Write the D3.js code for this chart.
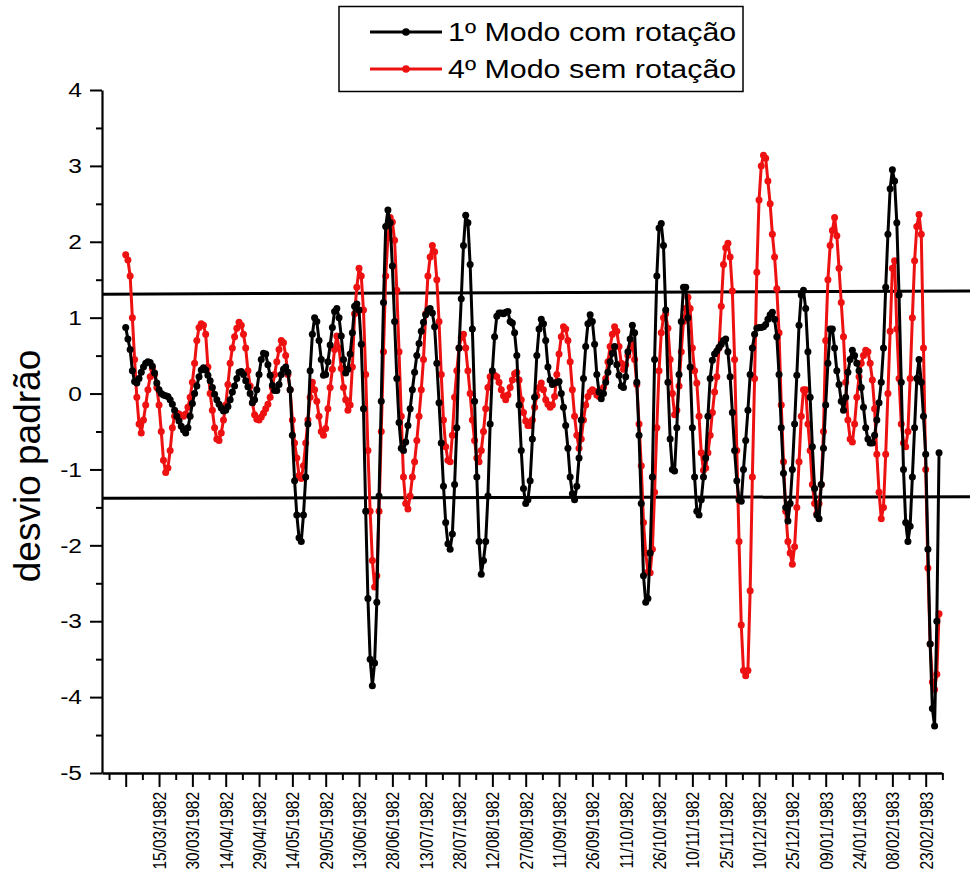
<!DOCTYPE html>
<html>
<head>
<meta charset="utf-8">
<script src="https://cdn.jsdelivr.net/npm/d3@7"></script>
<style>
  body { margin: 0; background: #fff; }
  svg { display: block; }
  text { font-family: Arial, "Liberation Sans", sans-serif; }
</style>
</head>
<body>
<svg id="chart" width="970" height="884"></svg>
<script>
// Daily standardized anomalies, one value per day starting 28/02/1982
const firstDay = new Date(Date.UTC(1982, 1, 28));

const modo1ComRotacao = [
  0.87, 0.72, 0.58, 0.30, 0.16, 0.14, 0.20, 0.28, 0.35, 0.40,
  0.42, 0.41, 0.36, 0.27, 0.14, 0.05, 0.00, -0.02, -0.03, -0.04,
  -0.08, -0.14, -0.22, -0.30, -0.36, -0.43, -0.48, -0.52, -0.45, -0.30,
  -0.13, 0.00, 0.10, 0.22, 0.31, 0.34, 0.31, 0.24, 0.17, 0.08,
  -0.01, -0.08, -0.14, -0.19, -0.23, -0.22, -0.17, -0.08, 0.02, 0.10,
  0.20, 0.28, 0.29, 0.25, 0.17, 0.09, 0.00, -0.12, -0.08, 0.05,
  0.25, 0.45, 0.53, 0.52, 0.38, 0.24, 0.11, 0.04, 0.04, 0.12,
  0.25, 0.32, 0.35, 0.28, 0.05, -0.55, -1.15, -1.60, -1.90, -1.95,
  -1.60, -1.10, -0.40, 0.30, 0.78, 1.00, 0.95, 0.70, 0.45, 0.24,
  0.25, 0.42, 0.64, 0.87, 1.08, 1.12, 1.00, 0.76, 0.45, 0.27,
  0.32, 0.52, 0.80, 1.15, 1.18, 1.10, 0.65, -0.20, -1.55, -2.70,
  -3.50, -3.85, -3.55, -2.75, -1.35, -0.10, 1.20, 2.20, 2.42, 2.25,
  1.68, 0.95, 0.20, -0.38, -0.72, -0.75, -0.64, -0.42, -0.20, 0.05,
  0.28, 0.50, 0.66, 0.82, 0.94, 1.04, 1.10, 1.12, 1.06, 0.88,
  0.40, -0.12, -0.65, -1.22, -1.70, -1.98, -2.05, -1.85, -1.20, -0.45,
  0.60, 1.25, 1.95, 2.35, 2.25, 1.70, 0.85, -0.10, -1.10, -1.95,
  -2.38, -2.20, -1.95, -1.35, -0.40, 0.30, 0.75, 1.02, 1.06, 1.06,
  1.05, 1.07, 1.08, 0.95, 0.93, 0.80, 0.50, -0.15, -0.75, -1.25,
  -1.45, -1.40, -1.15, -0.60, -0.05, 0.50, 0.85, 0.98, 0.92, 0.70,
  0.35, 0.18, 0.12, 0.14, 0.15, 0.16, 0.00, -0.18, -0.42, -0.72,
  -1.10, -1.32, -1.40, -1.22, -0.85, -0.35, 0.20, 0.62, 0.92, 1.04,
  0.95, 0.65, 0.25, 0.02, -0.07, 0.00, 0.15, 0.28, 0.42, 0.53,
  0.62, 0.38, 0.24, 0.10, 0.08, 0.22, 0.55, 0.72, 0.90, 0.80,
  0.15, -0.55, -1.45, -2.40, -2.75, -2.70, -2.10, -1.10, 0.45, 1.55,
  2.18, 2.24, 1.95, 1.10, 0.15, -0.60, -1.00, -1.02, -0.45, 0.25,
  0.95, 1.40, 1.40, 1.00, 0.35, -0.45, -1.10, -1.55, -1.60, -1.40,
  -1.10, -0.85, -0.30, 0.20, 0.44, 0.52, 0.56, 0.61, 0.65, 0.70,
  0.72, 0.55, 0.22, -0.25, -0.75, -1.15, -1.40, -1.42, -1.00, -0.62,
  -0.22, 0.25, 0.60, 0.78, 0.86, 0.87, 0.87, 0.88, 0.91, 0.98,
  1.04, 1.07, 0.98, 0.75, 0.25, -0.45, -1.05, -1.50, -1.68, -1.45,
  -1.00, -0.40, 0.24, 0.90, 1.30, 1.36, 1.12, 0.55, -0.05, -0.70,
  -1.25, -1.60, -1.65, -1.20, -0.72, -0.15, 0.40, 0.85, 0.85, 0.60,
  0.30, 0.12, -0.10, -0.22, -0.05, 0.28, 0.45, 0.57, 0.50, 0.40,
  0.30, 0.08, -0.18, -0.45, -0.60, -0.65, -0.65, -0.55, -0.35, -0.12,
  0.15, 0.60, 1.40, 2.10, 2.70, 2.95, 2.80, 2.25, 1.30, 0.15,
  -1.00, -1.70, -1.95, -1.75, -1.10, -0.45, 0.20, 0.45, 0.15, -0.30,
  -0.80, -2.05, -3.30, -4.15, -4.38, -3.00, -0.78
];

const modo4SemRotacao = [
  1.83, 1.76, 1.55, 1.00, 0.45, -0.05, -0.40, -0.52, -0.35, -0.15,
  0.05, 0.22, 0.33, 0.25, 0.08, -0.15, -0.50, -0.88, -1.04, -0.98,
  -0.75, -0.45, -0.30, -0.26, -0.27, -0.29, -0.30, -0.27, -0.18, -0.05,
  0.15, 0.40, 0.70, 0.87, 0.92, 0.90, 0.78, 0.35, 0.00, -0.22,
  -0.45, -0.60, -0.62, -0.52, -0.35, -0.15, 0.12, 0.40, 0.60, 0.75,
  0.86, 0.94, 0.90, 0.78, 0.60, 0.30, 0.10, -0.12, -0.28, -0.34,
  -0.35, -0.31, -0.26, -0.20, -0.14, -0.05, 0.08, 0.25, 0.42, 0.58,
  0.70, 0.67, 0.50, 0.25, 0.05, -0.35, -0.65, -0.85, -1.08, -1.12,
  -0.95, -0.65, -0.35, -0.05, 0.15, 0.05, -0.10, -0.30, -0.50, -0.55,
  -0.46, -0.20, 0.08, 0.32, 0.58, 0.76, 0.60, 0.33, 0.08, -0.08,
  -0.22, -0.15, 0.35, 1.05, 1.40, 1.65, 1.55, 1.10, 0.25, -0.75,
  -1.55, -2.20, -2.55, -2.40, -1.55, -0.50, 0.55, 1.55, 2.05, 2.32,
  2.26, 2.02, 1.36, 0.55, -0.30, -1.10, -1.45, -1.52, -1.35, -1.10,
  -0.90, -0.62, -0.30, 0.05, 0.45, 1.05, 1.55, 1.80, 1.95, 1.87,
  1.50, 0.95, 0.25, -0.35, -0.70, -0.88, -0.90, -0.55, -0.05, 0.30,
  0.60, 0.74, 0.78, 0.60, 0.30, 0.00, -0.35, -0.62, -0.85, -0.90,
  -0.75, -0.50, -0.20, 0.08, 0.22, 0.25, 0.24, 0.22, 0.15, 0.05,
  -0.03, -0.08, -0.02, 0.08, 0.18, 0.26, 0.28, 0.18, -0.08, -0.25,
  -0.36, -0.42, -0.42, -0.35, -0.18, -0.03, 0.08, 0.14, 0.05, -0.08,
  -0.14, -0.18, -0.15, -0.04, 0.25, 0.52, 0.75, 0.88, 0.85, 0.70,
  0.42, 0.05, -0.30, -0.55, -0.72, -0.60, -0.35, -0.15, -0.04, 0.02,
  0.05, 0.03, -0.02, -0.04, 0.00, 0.08, 0.20, 0.42, 0.62, 0.78,
  0.88, 0.82, 0.62, 0.40, 0.32, 0.38, 0.50, 0.60, 0.66, 0.45,
  0.12, -0.40, -0.95, -1.70, -2.10, -2.35, -2.36, -2.05, -1.30, -0.45,
  0.30, 0.80, 1.00, 1.05, 0.86, 0.45, 0.00, -0.28, -0.22, 0.10,
  0.55, 0.95, 1.12, 1.27, 1.12, 0.60, 0.30, 0.14, -0.30, -0.78,
  -1.01, -0.98, -0.78, -0.55, -0.25, 0.02, 0.22, 0.60, 1.15, 1.70,
  1.92, 1.98, 1.80, 1.35, 0.45, -0.75, -1.95, -3.05, -3.65, -3.72,
  -3.65, -2.60, -1.10, 0.20, 1.60, 2.55, 3.00, 3.14, 3.10, 2.80,
  2.50, 2.10, 1.80, 1.38, 0.80, -0.15, -0.90, -1.55, -1.95, -2.10,
  -2.25, -2.02, -1.50, -0.90, -0.30, 0.05, 0.05, -0.40, -0.75, -1.20,
  -1.45, -1.58, -1.45, -1.20, -0.50, 0.70, 1.50, 1.95, 2.15, 2.32,
  2.08, 1.65, 1.20, 0.75, 0.15, -0.35, -0.60, -0.64, -0.40, -0.05,
  0.22, 0.40, 0.50, 0.57, 0.55, 0.40, 0.18, -0.20, -0.80, -1.30,
  -1.65, -1.50, -0.80, 0.00, 0.82, 1.65, 1.75, 0.85, 0.20, -0.40,
  -0.65, -0.70, -0.50, 0.20, 1.00, 1.75, 2.20, 2.36, 2.10, 0.60,
  -1.00, -2.30, -3.30, -3.80, -3.90, -3.70, -2.90
];

const seriesNames = ["1º Modo com rotação", "4º Modo sem rotação"];

// Date labels on the major ticks (every 15 days from 28/02/1982; the first one is left blank)
const dateTickLabels = [
  "", "15/03/1982", "30/03/1982", "14/04/1982", "29/04/1982", "14/05/1982",
  "29/05/1982", "13/06/1982", "28/06/1982", "13/07/1982", "28/07/1982",
  "12/08/1982", "27/08/1982", "11/09/1982", "26/09/1982", "11/10/1982",
  "26/10/1982", "10/11/1982", "25/11/1982", "10/12/1982", "25/12/1982",
  "09/01/1983", "24/01/1983", "08/02/1983", "23/02/1983"
];

const yTickValues = [-5, -4, -3, -2, -1, 0, 1, 2, 3, 4];
const yMinorValues = [-4.5, -3.5, -2.5, -1.5, -0.5, 0.5, 1.5, 2.5, 3.5];

// Threshold lines (value at the left end, value at the right end)
const thresholdUpper = [1.31, 1.35];
const thresholdLower = [-1.38, -1.36];

const yTitle = "desvio padrão";

// ---------------------------------------------------------------
const svg = d3.select("#chart");
svg.append("rect").attr("width", 970).attr("height", 884).attr("fill", "#fff");

const plotLeft = 102, plotRight = 942, plotTop = 90, plotBottom = 773;
const wide = 1.17; // glyphs are drawn slightly wider than tall

const x = d3.scaleUtc()
  .domain([new Date(Date.UTC(1982, 1, 17, 8)), new Date(Date.UTC(1983, 2, 2, 8))])
  .range([plotLeft, plotRight]);
const y = d3.scaleLinear().domain([-5, 4]).range([plotBottom, plotTop]);

const dayDate = i => d3.utcDay.offset(firstDay, i);
const majorDates = dateTickLabels.map((_, i) => d3.utcDay.offset(firstDay, 15 * i));
const minorDates = [];
for (let i = -1; i < dateTickLabels.length; i++) {
  minorDates.push(d3.utcHour.offset(firstDay, (15 * i + 7.5) * 24));
}

// Threshold lines, running past the axis to the right edge
const refX = [x.invert(plotLeft + 1), x.invert(970)];
const refLine = d3.line().x(d => x(d[0])).y(d => y(d[1]));
[thresholdUpper, thresholdLower].forEach(t => {
  svg.append("path")
    .attr("d", refLine([[refX[0], t[0]], [refX[1], t[1]]]))
    .attr("fill", "none").attr("stroke", "#000").attr("stroke-width", 3);
});

// Series: red drawn first, black on top
const series = [
  { name: seriesNames[1], values: modo4SemRotacao, color: "#ee1111" },
  { name: seriesNames[0], values: modo1ComRotacao, color: "#000000" }
];
const line = d3.line().x((d, i) => x(dayDate(i))).y(d => y(d));
series.forEach(s => {
  const g = svg.append("g");
  g.append("path")
    .attr("d", line(s.values))
    .attr("fill", "none")
    .attr("stroke", s.color)
    .attr("stroke-width", 3)
    .attr("stroke-linejoin", "round");
  g.selectAll("circle").data(s.values).join("circle")
    .attr("cx", (d, i) => x(dayDate(i)))
    .attr("cy", d => y(d))
    .attr("r", 3.5)
    .attr("fill", s.color);
});

// X axis
const xAxisG = svg.append("g").attr("transform", `translate(0,${plotBottom})`);
xAxisG.call(d3.axisBottom(x).tickValues(majorDates).tickSize(14).tickSizeOuter(0)
  .tickFormat((d, i) => dateTickLabels[i]));
xAxisG.select(".domain").attr("stroke-width", 2.6);
xAxisG.selectAll(".tick line").attr("stroke-width", 2);
xAxisG.selectAll(".tick text")
  .attr("transform", `rotate(-90) scale(1,${wide})`)
  .attr("x", -19).attr("y", 0).attr("dy", "0.35em")
  .style("text-anchor", "end")
  .style("font-size", "15.5px")
  .attr("fill", "#000");
const xMinorG = svg.append("g").attr("transform", `translate(0,${plotBottom})`);
xMinorG.call(d3.axisBottom(x).tickValues(minorDates).tickSize(7).tickFormat(""));
xMinorG.select(".domain").remove();
xMinorG.selectAll(".tick line").attr("stroke-width", 2);

// Y axis
const yAxisG = svg.append("g").attr("transform", `translate(${plotLeft},0)`);
yAxisG.call(d3.axisLeft(y).tickValues(yTickValues).tickSize(12).tickSizeOuter(0)
  .tickFormat(d => String(d)));
yAxisG.select(".domain").attr("stroke-width", 2.2);
yAxisG.selectAll(".tick line").attr("stroke-width", 2);
yAxisG.selectAll(".tick text")
  .attr("x", -20 / wide)
  .attr("transform", `scale(${wide},1)`)
  .style("font-size", "21px").attr("fill", "#000");
const yMinorG = svg.append("g").attr("transform", `translate(${plotLeft},0)`);
yMinorG.call(d3.axisLeft(y).tickValues(yMinorValues).tickSize(6).tickFormat(""));
yMinorG.select(".domain").remove();
yMinorG.selectAll(".tick line").attr("stroke-width", 2);

svg.append("text")
  .attr("transform", "translate(40,466) rotate(-90)")
  .attr("text-anchor", "middle")
  .style("font-size", "37px")
  .text(yTitle);

// Legend
const legend = svg.append("g");
legend.append("rect")
  .attr("x", 339).attr("y", 6.5).attr("width", 404).attr("height", 85)
  .attr("fill", "#fff").attr("stroke", "#000").attr("stroke-width", 1.5);
[{ c: "#000000", t: seriesNames[0], yy: 32 }, { c: "#ee1111", t: seriesNames[1], yy: 69 }]
  .forEach(e => {
    legend.append("line").attr("x1", 370).attr("x2", 442).attr("y1", e.yy).attr("y2", e.yy)
      .attr("stroke", e.c).attr("stroke-width", 3);
    legend.append("circle").attr("cx", 406).attr("cy", e.yy).attr("r", 3.8).attr("fill", e.c);
    legend.append("text")
      .attr("transform", `translate(448,${e.yy + 9}) scale(${wide},1)`)
      .style("font-size", "26px").text(e.t);
  });
</script>
</body>
</html>
